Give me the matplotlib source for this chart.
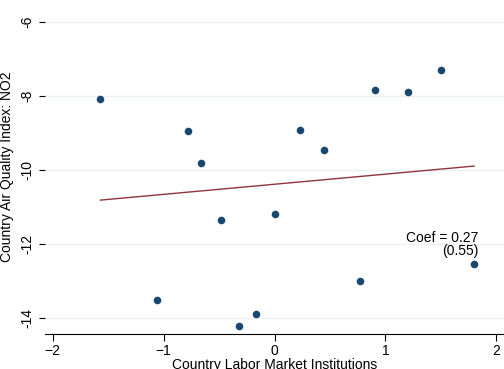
import matplotlib
matplotlib.use("Agg")
import matplotlib.pyplot as plt
import numpy as np

plt.rcParams['font.family'] = ['Liberation Sans', 'DejaVu Sans']

# country level values
labor_inst = [-1.57, -0.78, -0.66, -0.48, -1.06, -0.32, -0.17, 0.00,
              0.23, 0.45, 0.77, 0.91, 1.20, 1.50, 1.80]
no2_index = [-8.08, -8.95, -9.81, -11.35, -13.51, -14.22, -13.89, -11.19,
             -8.92, -9.46, -13.00, -7.84, -7.89, -7.30, -12.54]
fit_x = [-1.57, 1.80]
fit_y = [-10.81, -9.89]
coef_text = "Coef = 0.27\n(0.55)"

fig = plt.figure(figsize=(5.04, 3.69), dpi=100)
ax = fig.add_axes([45/504, 35/369, 459/504, 334/369])

ax.scatter(labor_inst, no2_index, s=30, color='#1a476f', zorder=3, linewidths=0)
ax.plot(fit_x, fit_y, color='#90353b', lw=1.0, zorder=2)

ax.set_xlim(-2.07, 2.07)
ax.set_ylim(-14.43, -5.4)
ax.set_xticks([-2, -1, 0, 1, 2])
ax.set_yticks([-14, -12, -10, -8, -6])
ax.set_yticklabels(['-14', '-12', '-10', '-8', '-6'], rotation=90, va='center')
ax.grid(axis='y', color='#eaf2f3', lw=1.0)
ax.set_axisbelow(True)

for s in ['top', 'right', 'left']:
    ax.spines[s].set_visible(False)
ax.spines['bottom'].set_linewidth(0.8)
ax.tick_params(axis='both', labelsize=10, length=5, width=0.8, colors='black')
ax.tick_params(axis='x', pad=2)
ax.tick_params(axis='y', length=4, pad=4)

ax.set_xlabel('Country Labor Market Institutions', fontsize=10, labelpad=0)
ax.set_ylabel('Country Air Quality Index: NO2', fontsize=10, labelpad=4)

ax.text(1.84, -12.37, coef_text, ha='right', va='bottom', fontsize=10,
        multialignment='right', linespacing=0.9)

fig.savefig('out.png', dpi=100)
